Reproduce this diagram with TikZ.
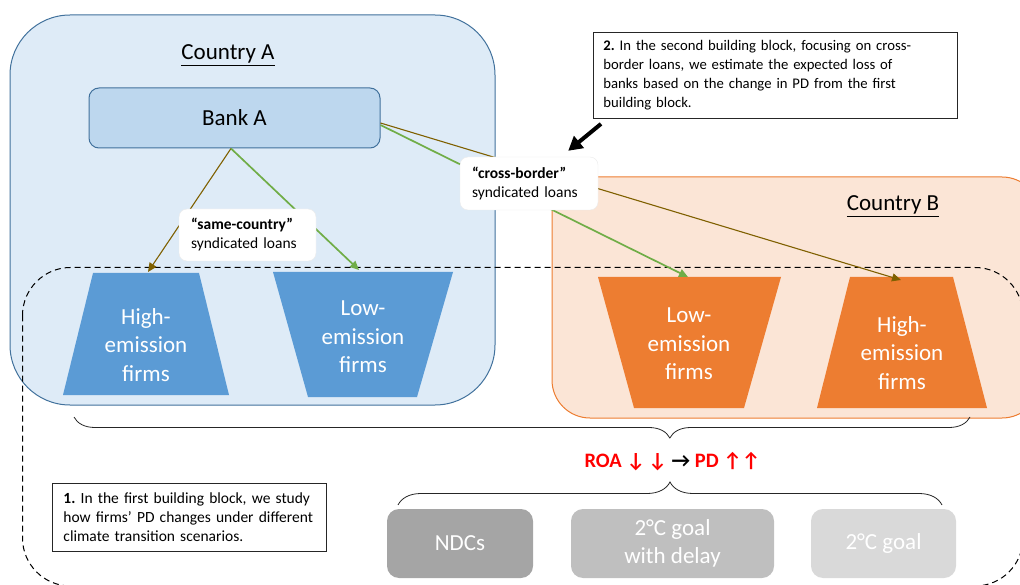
\documentclass[tikz,border=0pt]{standalone}
\usepackage{fontspec}
\setmainfont{Carlito}
\newfontfamily\symfont{DejaVu Sans}
\usetikzlibrary{arrows.meta,decorations.pathreplacing}
\frenchspacing

\definecolor{ctyAfill}{HTML}{DEEBF7}
\definecolor{ctyAline}{HTML}{41719C}
\definecolor{bankfill}{HTML}{BDD7EE}
\definecolor{firmblue}{HTML}{5B9BD5}
\definecolor{ctyBfill}{HTML}{FBE5D6}
\definecolor{ctyBline}{HTML}{ED7D31}
\definecolor{firmorange}{HTML}{ED7D31}
\definecolor{loanbrown}{HTML}{7F6000}
\definecolor{loangreen}{HTML}{70AD47}
\definecolor{scenA}{HTML}{A5A5A5}
\definecolor{scenB}{HTML}{BFBFBF}
\definecolor{scenC}{HTML}{D9D9D9}
\definecolor{roared}{HTML}{FF0000}

\begin{document}
\begin{tikzpicture}[x=1pt,y=-1pt,
  big/.style={font=\fontsize{23}{28.5}\selectfont},
  small/.style={font=\fontsize{15.5}{19}\selectfont},
  countrybox/.style={rounded corners=#1, inner sep=0pt, line width=1pt},
  countrytitle/.style={big, anchor=base, inner sep=0pt},
  firmtext/.style={big, text=white, align=center, inner sep=0pt},
  loanlabel/.style={small, fill=white, draw=black!8, rounded corners=8pt,
    align=left, inner xsep=12pt, inner ysep=0pt},
  note/.style={small, fill=white, draw=black!85, line width=0.9pt,
    align=left, anchor=north west, inner ysep=0pt},
  scenario/.style={big, text=white, rounded corners=12pt, minimum height=69pt,
    align=center, inner sep=0pt},
  brownloan/.style={draw=loanbrown, line width=1.1pt,
    -{Triangle[length=9pt,width=8pt]}},
  greenloan/.style={draw=loangreen, line width=1.7pt,
    -{Triangle[length=9pt,width=8pt]}},
  curly/.style={decorate, decoration={brace, amplitude=#1}, line width=0.8pt,
    draw=black!85},
]
\clip (0,0) rectangle (1020,585);

% the two countries
\node[countrybox=60pt, fill=ctyAfill, draw=ctyAline,
  minimum width=485pt, minimum height=390pt] (countryA) at (252.5,210) {};
\node[countrybox=38pt, fill=ctyBfill, draw=ctyBline,
  minimum width=488pt, minimum height=241pt] (countryB) at (796,297.5) {};
\node[countrytitle] (titleA) at (228,60) {\underline{Country A}};
\node[countrytitle] (titleB) at (893,211) {\underline{Country B}};

% scope of the first building block
\draw[dashed, dash pattern=on 6pt off 4pt, line width=1pt, rounded corners=48pt]
  (22.5,267.5) rectangle (1023,586);

% the bank
\node[big, fill=bankfill, draw=ctyAline, line width=1pt, rounded corners=10pt,
  minimum width=291pt, minimum height=60pt, inner sep=0pt] (bankA) at (234.5,118) {Bank A};

% firms
\fill[firmblue] (93,273) -- (199,273) -- (229,395) -- (63,395) -- cycle;
\fill[firmblue] (273,272) -- (453,272) -- (417,397) -- (308,397) -- cycle;
\fill[firmorange] (598,277) -- (781,277) -- (744,408) -- (634,408) -- cycle;
\fill[firmorange] (850,277) -- (953,277) -- (987,408) -- (817,408) -- cycle;
\node[firmtext] (hiA) at (146,345) {High-\\emission\\firms};
\node[firmtext] (loA) at (363,337) {Low-\\emission\\firms};
\node[firmtext] (loB) at (689,344) {Low-\\emission\\firms};
\node[firmtext] (hiB) at (902,353) {High-\\emission\\firms};
\coordinate (hiAtop) at (148,272);
\coordinate (loAtop) at (359,270);
\coordinate (loBtop) at (688,277);
\coordinate (hiBtop) at (901,280);

% loans
\draw[brownloan] ([xshift=-3.5pt]bankA.south) -- (hiAtop);
\draw[greenloan] ([xshift=-3.5pt]bankA.south) -- (loAtop);
\draw[greenloan] ([yshift=-7pt]bankA.east) -- (loBtop);
\draw[brownloan] ([yshift=-5pt]bankA.east) -- (hiBtop);

\node[loanlabel, minimum width=137pt, minimum height=52pt, text width=113pt]
  (same) at (247.5,235) {\textbf{“same-country”}\\syndicated~loans};
\node[loanlabel, minimum width=138pt, minimum height=53pt, text width=114pt]
  (cross) at (529,183.5) {\textbf{“cross-border”}\\syndicated~loans};

% notes
\node[note, font=\fontsize{14.7}{19}\selectfont, minimum width=364pt, minimum height=86pt,
  text width=344pt, inner xsep=10pt]
  (note2) at (593,32) {\textbf{2.} In the second building block, focusing on cross-\\
  border loans, we estimate the expected loss of\\
  banks based on the change in PD from the first\\
  building block.};
\draw[line width=4pt, -{Triangle[length=14pt,width=15pt]}]
  ([shift={(8pt,-5pt)}]note2.south west) -- ([shift={(-30pt,6pt)}]cross.north east);

\node[note, minimum width=274pt, minimum height=68pt, text width=252pt, inner xsep=11pt]
  (note1) at (52,483) {\textbf{1.} In the first building block, we study\\
  how firms’ PD changes under different\\
  climate transition scenarios.};

% braces and the mechanism
\coordinate (braceTopR) at (970,417);
\coordinate (braceTopL) at (74,417);
\coordinate (braceBotL) at (398,505);
\coordinate (braceBotR) at (942,505);
\draw[curly=21pt, decoration={aspect=0.335}] (braceTopR) -- (braceTopL);
\draw[curly=23pt] (braceBotL) -- (braceBotR);

\node[font=\fontsize{20.5}{24}\selectfont\bfseries, anchor=base, inner sep=0pt]
  (mech) at (672.5,467)
  {\textcolor{roared}{ROA ↓\,↓} → \textcolor{roared}{PD ↑↑}};

% transition scenarios
\node[scenario, fill=scenA, minimum width=146pt] (ndc) at (460,543.5) {NDCs};
\node[scenario, fill=scenB, minimum width=203pt] (delay) at (672.5,543.5) {2°C goal\\with delay};
\node[scenario, fill=scenC, minimum width=145pt] (goal) at (883.5,543.5) {2°C goal};
\end{tikzpicture}
\end{document}
